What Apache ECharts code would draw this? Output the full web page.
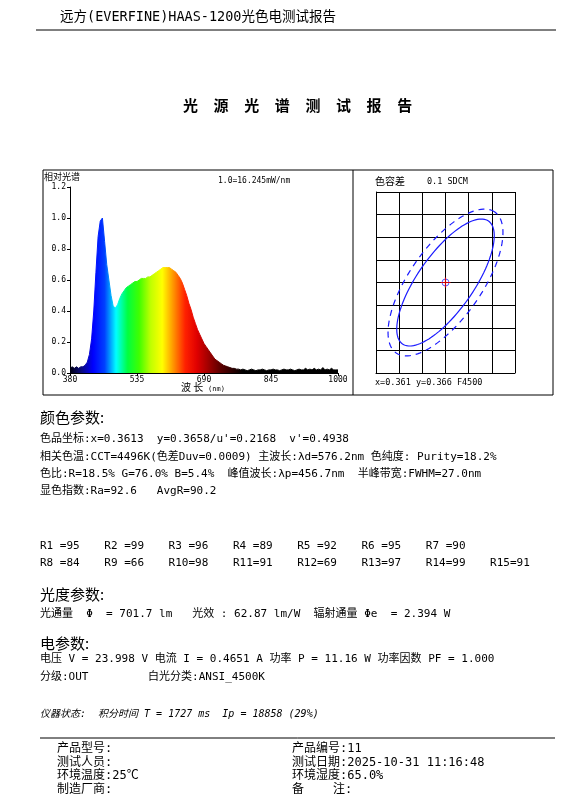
<!DOCTYPE html>
<html><head><meta charset="utf-8">
<script src="https://cdn.jsdelivr.net/npm/echarts@6/dist/echarts.min.js"></script>
<style>html,body{margin:0;padding:0;background:#fff}#c{width:584px;height:809px}</style>
</head><body><div id="c"></div>
<script>
var wlStart = 380, wlStep = 5;
var spectrum = [0.03,0.04,0.03,0.04,0.03,0.04,0.04,0.05,0.07,0.12,0.22,0.40,0.65,0.88,0.98,1.00,0.85,0.70,0.60,0.50,0.43,0.42,0.44,0.48,0.51,0.53,0.55,0.56,0.57,0.58,0.59,0.59,0.60,0.61,0.61,0.61,0.62,0.62,0.63,0.64,0.65,0.66,0.67,0.68,0.68,0.68,0.68,0.67,0.66,0.65,0.63,0.61,0.58,0.54,0.50,0.45,0.41,0.36,0.32,0.28,0.25,0.22,0.19,0.17,0.15,0.13,0.11,0.09,0.08,0.07,0.06,0.05,0.045,0.04,0.035,0.03,0.03,0.025,0.025,
0.02,0.025,0.02,0.015,0.02,0.025,0.02,0.015,0.02,0.02,0.025,0.02,0.015,0.02,0.02,0.025,0.02,0.02,0.015,0.02,0.025,0.02,0.02,0.025,0.02,0.015,0.02,0.025,0.02,0.02,0.03,0.02,0.025,0.02,0.03,0.02,0.025,0.02,0.035,0.02,0.025,0.02,0.03,0.02,0.02,0.02];
var xTicks = [380,535,690,845,1000];
var yTicks = [0,0.2,0.4,0.6,0.8,1.0,1.2];
var ellipseSolid = [3,4,75,28,55];
var ellipseDash = [3,4,86,36,55];
var rNames = ['R1','R2','R3','R4','R5','R6','R7','R8','R9','R10','R11','R12','R13','R14','R15'];
var rValues = [95,99,96,89,92,95,90,84,66,98,91,69,97,99,91];
var reportTitle = '光源光谱测试报告';
var textLines = [
 ['色品坐标:x=0.3613  y=0.3658/u\'=0.2168  v\'=0.4938',442],
 ['相关色温:CCT=4496K(色差Duv=0.0009) 主波长:λd=576.2nm 色纯度: Purity=18.2%',460],
 ['色比:R=18.5% G=76.0% B=5.4%  峰值波长:λp=456.7nm  半峰带宽:FWHM=27.0nm',477],
 ['显色指数:Ra=92.6   AvgR=90.2',494],
 ['光通量  Φ  = 701.7 lm   光效 : 62.87 lm/W  辐射通量 Φe  = 2.394 W',617],
 ['电压 V = 23.998 V 电流 I = 0.4651 A 功率 P = 11.16 W 功率因数 PF = 1.000',662],
 ['分级:OUT         白光分类:ANSI_4500K',680]
];
var footer = [['产品型号:','产品编号:11'],['测试人员:','测试日期:2025-10-31 11:16:48'],['环境温度:25℃','环境湿度:65.0%'],['制造厂商:','备    注:']];

var MONO = "'DejaVu Sans Mono','Noto Sans CJK SC',monospace";
var data = spectrum.map(function(v,i){return [wlStart+i*wlStep, v];});
var g = [];
function T(x,y,s,o){o=o||{};g.push({type:'text',left:x,top:y,style:Object.assign({text:s,font:(o.w||'normal')+' '+(o.size||12)+'px '+(o.f||MONO),fill:'#000'},o.st||{})});}
T(60,11,'远方(EVERFINE)HAAS-1200光色电测试报告',{size:13.5});
g.push({type:'line',shape:{x1:36,y1:30,x2:556,y2:30},style:{stroke:'#000',lineWidth:1}});
reportTitle.split('').forEach(function(ch,i){T(183+i*30.6,98,ch,{size:15,w:'bold',f:"'Noto Sans CJK SC'"});});
g.push({type:'rect',shape:{x:43,y:170,width:510,height:225},style:{fill:'none',stroke:'#000',lineWidth:1}});
g.push({type:'line',shape:{x1:353,y1:170,x2:353,y2:395},style:{stroke:'#000',lineWidth:1}});
T(44,172,'相对光谱',{size:9,f:"'Noto Sans CJK SC'"});
T(218,177,'1.0=16.245mW/nm',{size:8});
T(181,382,'波 长',{size:10,f:"'Noto Sans CJK SC'"});
T(208,386,'(nm)',{size:7});
T(375,176,'色容差',{size:10,f:"'Noto Sans CJK SC'"});
T(427,178,'0.1 SDCM',{size:8.5});
T(375,379,'x=0.361 y=0.366 F4500',{size:8.5});
T(40,410,'颜色参数:',{size:15,f:"'Noto Sans CJK SC'"});
T(40,587,'光度参数:',{size:15,f:"'Noto Sans CJK SC'"});
T(40,636,'电参数:',{size:15,f:"'Noto Sans CJK SC'"});
textLines.forEach(function(l){T(40,l[1]-8,l[0],{size:11});});
rNames.forEach(function(n,i){
  var row = i<7?0:1, col = i<7?i:i-7;
  var s = n.length===3 ? n+'='+rValues[i] : n+' ='+rValues[i];
  T(40+col*64.3,541+row*17,s,{size:11});
});
T(40,709,'仪器状态:  积分时间 T = 1727 ms  Ip = 18858 (29%)',{size:10,w:'italic'});
g.push({type:'line',shape:{x1:40,y1:738,x2:555,y2:738},style:{stroke:'#000',lineWidth:1}});
footer.forEach(function(r,i){T(57,743+i*13.5,r[0],{size:12});T(292,743+i*13.5,r[1],{size:12});});

function ellipseRender(params, api){
  var c = api.coord([api.value(0),api.value(1)]);
  var a=api.value(2), b=api.value(3), th=api.value(4)*Math.PI/180, pts=[];
  for(var k=0;k<=120;k++){var t=k/120*2*Math.PI;var ex=a*Math.cos(t), ey=b*Math.sin(t);
    pts.push([c[0]+ex*Math.cos(th)-ey*Math.sin(th), c[1]-(ex*Math.sin(th)+ey*Math.cos(th))]);}
  return {type:'polyline',shape:{points:pts},style:{stroke:'#1a1aff',fill:'none',lineWidth:1.2,lineDash:api.value(5)?[6,5]:null}};
}
var lbl = {fontFamily:MONO,fontSize:8,color:'#000'};
var opt = {
  animation:false,
  graphic:g,
  grid:[{left:70,right:246,top:187,bottom:436},{left:376,right:69,top:192,bottom:436}],
  xAxis:[
   {gridIndex:0,type:'value',min:xTicks[0],max:xTicks[xTicks.length-1],interval:155,axisLine:{lineStyle:{color:'#000'}},axisTick:{length:3,lineStyle:{color:'#000'}},splitLine:{show:false},axisLabel:Object.assign({margin:3,formatter:function(v){return String(v);}},lbl)},
   {gridIndex:1,type:'value',min:0,max:6,interval:1,axisLine:{lineStyle:{color:'#000'}},axisTick:{show:false},axisLabel:{show:false},splitLine:{lineStyle:{color:'#000'}}}
  ],
  yAxis:[
   {gridIndex:0,type:'value',min:0,max:1.2,interval:0.2,axisLine:{show:true,lineStyle:{color:'#000'}},axisTick:{show:true,length:3,lineStyle:{color:'#000'}},splitLine:{show:false},axisLabel:Object.assign({margin:4,formatter:function(v){return v.toFixed(1);}},lbl)},
   {gridIndex:1,type:'value',min:0,max:8,interval:1,axisLine:{show:true,lineStyle:{color:'#000'}},axisTick:{show:false},axisLabel:{show:false},splitLine:{lineStyle:{color:'#000'}}}
  ],
  visualMap:{show:false,type:'continuous',seriesIndex:0,dimension:0,min:380,max:780,
    inRange:{color:['#000010','#0a0a80','#0000ff','#0040ff','#00ffff','#00ff40','#40ff00','#c0ff00','#ffff00','#ff9000','#ff2000','#e00000','#a00000','#600000','#300000','#000000']},
    outOfRange:{color:'#000000'}},
  series:[
   {type:'line',xAxisIndex:0,yAxisIndex:0,data:data,showSymbol:false,lineStyle:{width:1},areaStyle:{opacity:1}},
   {type:'custom',xAxisIndex:1,yAxisIndex:1,renderItem:ellipseRender,data:[ellipseSolid.concat([0]),ellipseDash.concat([1])]},
   {type:'scatter',xAxisIndex:1,yAxisIndex:1,data:[[3,4]],symbol:'circle',symbolSize:7,itemStyle:{color:'none',borderColor:'#3030ff',borderWidth:1}},
   {type:'scatter',xAxisIndex:1,yAxisIndex:1,data:[[3,4]],symbol:'path://M5,0L5,10M0,5L10,5',symbolSize:10,itemStyle:{color:'none',borderColor:'#ff0000',borderWidth:1.2}}
  ]
};
echarts.init(document.getElementById('c')).setOption(opt);
</script></body></html>
